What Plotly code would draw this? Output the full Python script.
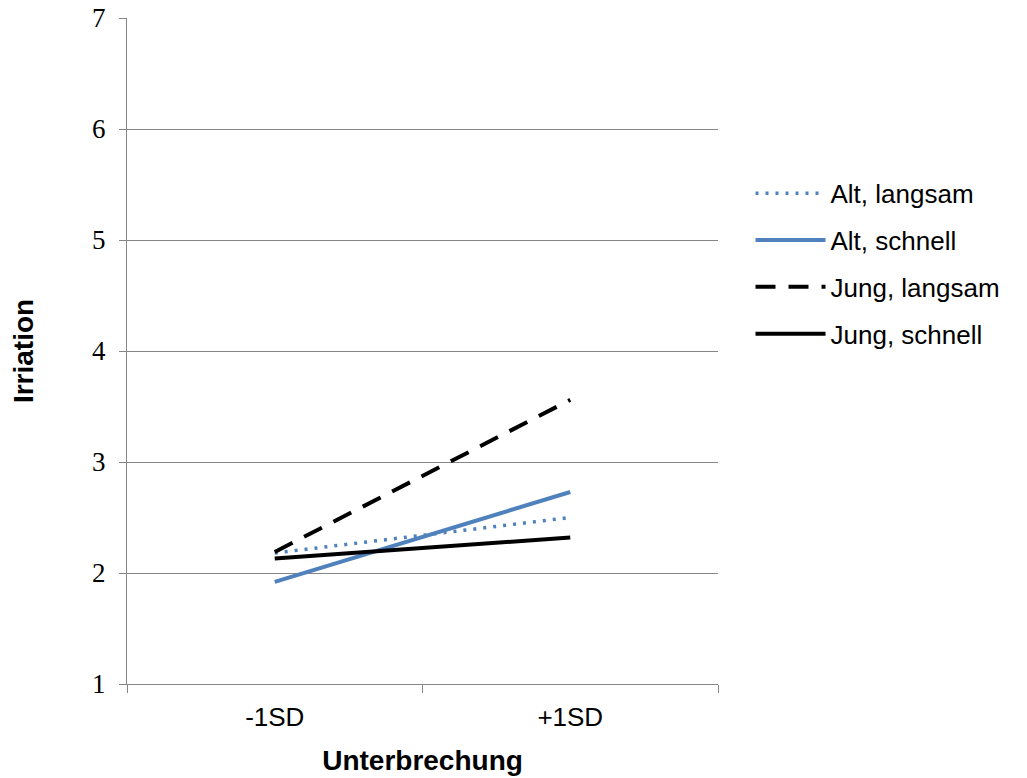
import plotly.graph_objects as go

categories = ["-1SD", "+1SD"]
series_names = ["Alt, langsam", "Alt, schnell", "Jung, langsam", "Jung, schnell"]
alt_langsam = [2.18, 2.50]
alt_schnell = [1.92, 2.73]
jung_langsam = [2.19, 3.56]
jung_schnell = [2.13, 2.32]
y_ticks = [1, 2, 3, 4, 5, 6, 7]

BLUE = "#4F81BD"
styles = [
    dict(color=BLUE, width=3.5, dash="3px,7px"),
    dict(color=BLUE, width=4, dash="solid"),
    dict(color="black", width=4, dash="20px,13px"),
    dict(color="black", width=4, dash="solid"),
]
values = [alt_langsam, alt_schnell, jung_langsam, jung_schnell]
xpos = list(range(len(categories)))

fig = go.Figure()
for i, (name, vals, st) in enumerate(zip(series_names, values, styles)):
    fig.add_trace(go.Scatter(x=xpos, y=vals, mode="lines", name=name,
                             line=st, legendgroup=f"g{i}"))

SANS = "Liberation Sans, Arial"
fig.update_layout(
    width=1027, height=778,
    margin=dict(l=127, r=309, t=18, b=94, autoexpand=False),
    paper_bgcolor="white", plot_bgcolor="white",
    showlegend=True,
    legend=dict(x=1.055, y=0.772, xanchor="left", yanchor="top",
                font=dict(family=SANS, size=26, color="black"),
                tracegroupgap=10, itemwidth=70, bgcolor="rgba(0,0,0,0)"),
)
fig.update_xaxes(
    range=[-0.5, 1.5], tickvals=xpos, ticktext=categories, automargin=False,
    ticks="", showgrid=False, zeroline=False,
    showline=True, linecolor="#868686", linewidth=1,
    tickfont=dict(family=SANS, size=26, color="black"),
    ticklabelstandoff=10,
    minor=dict(tickvals=[-0.5, 0.5, 1.5], ticks="outside", ticklen=8,
               tickcolor="#868686", tickwidth=1, showgrid=False),
    title=dict(text="<b>Unterbrechung</b>", standoff=19,
               font=dict(family=SANS, size=28, color="black")),
)
fig.update_yaxes(
    range=[1, 7], tickvals=y_ticks, ticks="outside", ticklen=7, automargin=False,
    tickcolor="#868686", showgrid=True, gridcolor="#868686", gridwidth=1,
    zeroline=False, showline=True, linecolor="#868686", linewidth=1,
    tickfont=dict(family="Liberation Serif, Times New Roman", size=27, color="black"),
    ticklabelstandoff=8, ticklabeloverflow="allow",
    title=dict(text="<b>Irriation</b>", standoff=50,
               font=dict(family=SANS, size=28, color="black")),
)
fig.write_html("out.html", config={"displayModeBar": False},
               post_script="document.body.style.margin='0';document.body.style.overflow='hidden';")
